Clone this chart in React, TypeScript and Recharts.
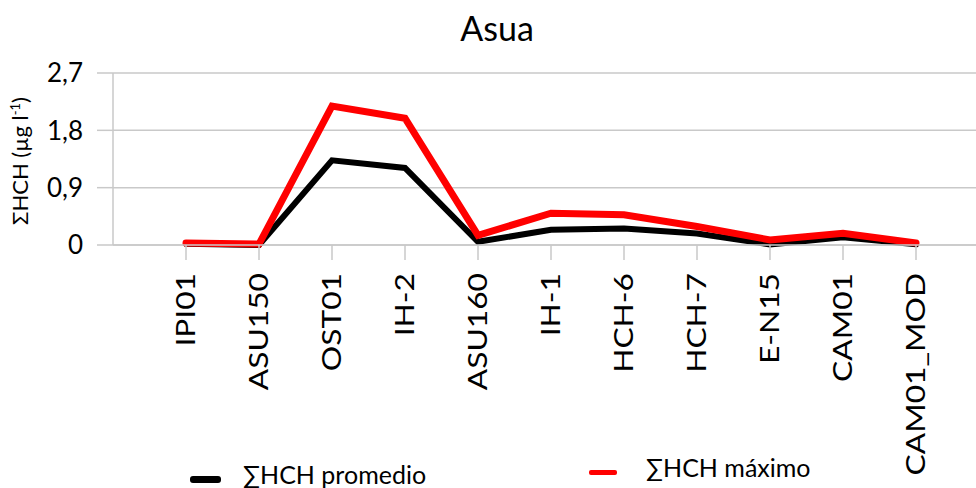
import * as React from "react";
import { LineChart, Line, XAxis, YAxis, CartesianGrid } from "recharts";

const STATIONS = [
  "IPI01",
  "ASU150",
  "OST01",
  "IH-2",
  "ASU160",
  "IH-1",
  "HCH-6",
  "HCH-7",
  "E-N15",
  "CAM01",
  "CAM01_MOD",
];

// ΣHCH (µg l-1)
const PROMEDIO = [0.02, 0.0, 1.33, 1.21, 0.05, 0.24, 0.26, 0.18, 0.01, 0.12, 0.01];
const MAXIMO = [0.03, 0.015, 2.18, 1.99, 0.15, 0.5, 0.475, 0.29, 0.08, 0.185, 0.03];

const Y_TICKS = [0, 0.9, 1.8, 2.7];

const FONT = "Lato, 'Noto Sans', sans-serif";
const GRID = "#c9c9c9";

const data = STATIONS.map((name, i) => ({
  name,
  promedio: PROMEDIO[i],
  maximo: MAXIMO[i],
}));

// rotated station names, a bit stretched along the text like the original export
function StationTick(props: any) {
  const { x, y, payload } = props;
  return (
    <text
      transform={`translate(${x},${y}) rotate(-90) scale(1.22,1)`}
      textAnchor="end"
      dy="0.36em"
      fontSize={26}
      fontFamily={FONT}
      fill="#000"
    >
      {payload.value}
    </text>
  );
}

function YLabel() {
  return (
    <text
      transform="translate(20,161) rotate(-90)"
      textAnchor="middle"
      dy="0.35em"
      fontSize={22}
      fontFamily={FONT}
      fill="#000"
    >
      ΣHCH (µg l
      <tspan baselineShift="super" fontSize={13}>
        -1
      </tspan>
      )
    </text>
  );
}

export default function App() {
  return (
    <div
      style={{
        position: "absolute",
        left: 0,
        top: 0,
        width: 976,
        height: 488,
        background: "#fff",
        overflow: "hidden",
        fontFamily: FONT,
      }}
    >
      <div
        style={{
          position: "absolute",
          top: 8,
          left: 0,
          width: 994,
          textAlign: "center",
          fontSize: 34,
          lineHeight: "40px",
        }}
      >
        Asua
      </div>
      <LineChart
        width={976}
        height={488}
        data={data}
        margin={{ top: 73, right: 0, bottom: 0, left: 0 }}
      >
        <CartesianGrid vertical={false} stroke={GRID} strokeWidth={1.5} />
        <XAxis
          dataKey="name"
          height={243}
          padding={{ left: 73, right: 60 }}
          axisLine={{ stroke: GRID, strokeWidth: 1.5 }}
          tickLine={{ stroke: GRID, strokeWidth: 1.5 }}
          tickSize={15}
          tickMargin={13}
          interval={0}
          tick={<StationTick />}
        />
        <YAxis
          width={113}
          domain={[0, 2.7]}
          ticks={Y_TICKS}
          interval={0}
          axisLine={{ stroke: GRID, strokeWidth: 1.5 }}
          tickLine={{ stroke: GRID, strokeWidth: 1.5 }}
          tickSize={16}
          tickMargin={14}
          tick={{ fontSize: 26, fontFamily: FONT, fill: "#000" }}
          tickFormatter={(v: number) => String(v).replace(".", ",")}
          label={<YLabel />}
        />
        <Line
          dataKey="promedio"
          stroke="#000"
          strokeWidth={6}
          strokeLinecap="round"
          dot={false}
          isAnimationActive={false}
        />
        <Line
          dataKey="maximo"
          stroke="#ff0000"
          strokeWidth={7}
          strokeLinecap="round"
          dot={false}
          isAnimationActive={false}
        />
      </LineChart>
      {/* legend */}
      <div style={{ position: "absolute", left: 190, top: 476, width: 31, height: 7, background: "#000", borderRadius: 3 }} />
      <div style={{ position: "absolute", left: 243, top: 459, fontSize: 25, lineHeight: "30px", whiteSpace: "nowrap" }}>
        ∑HCH promedio
      </div>
      <div style={{ position: "absolute", left: 589, top: 470, width: 28, height: 5, background: "#ff0000", borderRadius: 2 }} />
      <div style={{ position: "absolute", left: 646, top: 452, fontSize: 25, lineHeight: "30px", whiteSpace: "nowrap" }}>
        ∑HCH máximo
      </div>
    </div>
  );
}
